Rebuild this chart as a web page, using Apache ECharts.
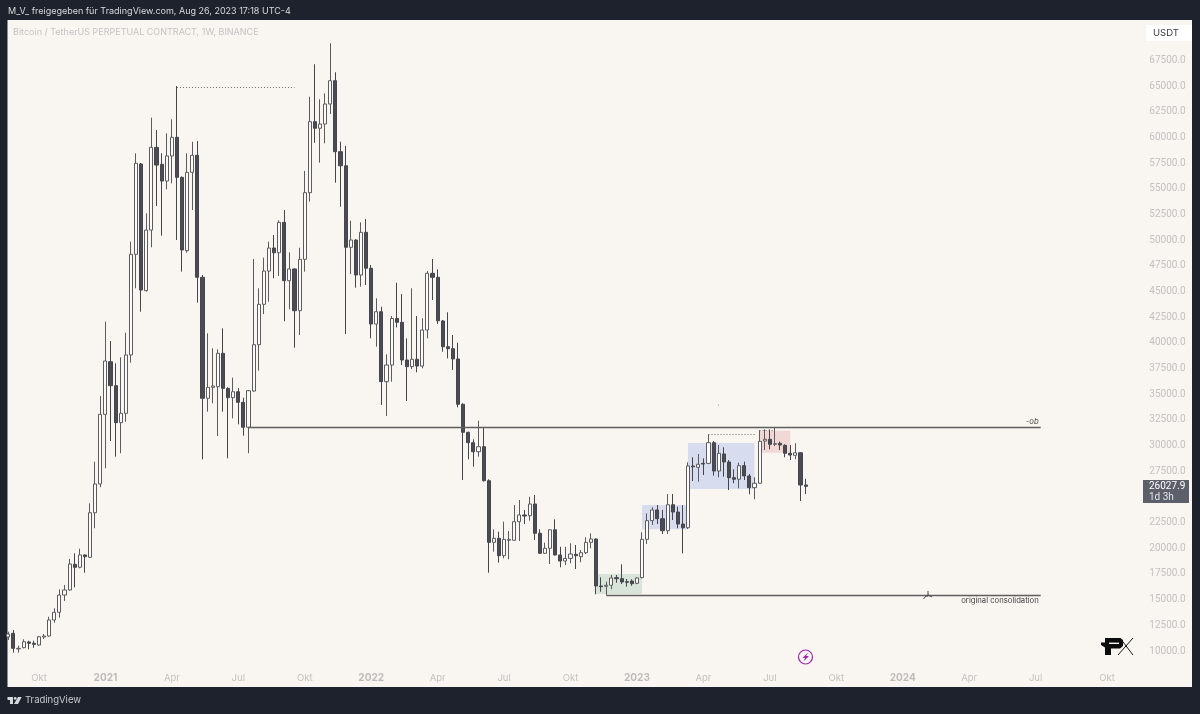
<!DOCTYPE html>
<html style="height: 100%">
<head>
    <meta charset="utf-8">
</head>
<body style="height: 100%; margin: 0; background: #1e222d">
<div id="container" style="width: 1200px; height: 714px"></div>
<script type="text/javascript" src="https://cdn.jsdelivr.net/npm/echarts@6/dist/echarts.min.js"></script>
<script type="text/javascript">
    // weekly BTCUSDT perp
    var opens = [11360,11720,10200,10320,10880,10750,10580,11360,11460,13020,13770,15450,15940,18440,18150,19350,19120,23460,26260,33040,
        38160,35830,32230,33140,38820,48620,57410,45080,50980,59030,57380,55750,58190,60010,56110,48970,56600,58260,46380,34600,
        35670,35730,38980,35570,34660,35240,34210,31780,35310,39820,43750,46990,49230,48770,51730,46050,47190,43130,48130,54620,
        61530,60890,61300,63250,65520,58610,57240,49300,50010,46600,50760,47260,41830,43030,36220,37840,42370,42000,38330,37680,
        38400,37740,41250,46770,46380,42130,39620,39430,38430,34020,31290,30280,29400,29890,26580,20580,20970,19280,20780,20780,
        22590,23240,23170,24310,21460,19510,20000,21800,19350,18760,19020,19410,19180,19570,20580,20900,16330,16300,16400,17140,
        17040,16750,16810,16590,17140,20870,22690,23730,22880,21710,24240,23530,22360,22000,28010,27880,28270,28270,30280,27520,
        29180,28400,26870,26720,28040,27040,25900,26330,30440,30610,30120,30220,30020,29250,29050,29300,26160];
    var closes = [11650,10260,10260,10900,10750,10650,11390,11460,13020,13770,15450,15940,18470,18150,19350,19180,23460,26260,33040,38230,
        35830,32230,33140,38820,48620,57480,45140,50980,59030,57310,55750,58190,60010,56110,49040,56600,58260,46380,34600,35670,
        35800,38980,35570,34660,35240,34210,31780,35340,39820,43750,46990,49230,48770,51730,46050,47190,43130,48130,54620,61530,
        60890,61300,63250,65520,58610,57240,49300,50010,46600,50760,47260,41830,43030,36220,37840,42370,42000,38330,37680,38400,
        37740,41250,46770,46380,42150,39620,39430,38430,34020,31290,30280,29400,29890,26580,20580,20970,19280,20870,20870,22590,
        23240,23140,24310,21460,19510,20000,21800,19350,18760,19020,19440,19280,19570,20580,20900,16330,16260,16400,17110,17040,
        16720,16690,16550,17110,20870,22690,23730,22880,21710,24240,23530,22360,22000,28010,27940,28180,28200,30280,27520,29250,
        28400,26870,26720,28040,27040,25900,26330,30410,30610,30120,30180,30050,29250,29080,29300,26160,26027.9];
    var lows = [11070,9840,9840,10260,10170,10320,10520,11170,11390,12750,13240,14870,15870,16200,18050,17620,19080,21950,25940,27790,
        30440,28920,29250,32320,38070,45310,43030,44980,49300,53320,50430,54950,55530,50010,46930,48770,52930,43910,28660,33300,
        34110,30930,33300,28760,32650,32070,30960,29250,35240,37290,42810,44000,46280,46510,42100,43260,39530,40760,46930,53740,
        59480,57540,59430,62280,55590,53250,40860,46700,45370,45470,45630,40440,39620,33950,32880,36220,41510,37840,34340,37450,
        37130,37520,40440,44170,41830,39140,38490,37360,33720,26650,28660,27940,28920,26500,17620,19670,18600,19020,18930,20740,
        20710,22360,22690,20810,19450,19480,18470,19300,18150,18370,18540,17980,18640,19440,20000,15520,15770,15450,16010,16650,
        16520,16260,16360,16500,17080,20420,22270,22360,21390,21390,22750,21950,19510,21880,26550,26480,27130,28200,27070,26910,
        26970,25670,26330,25840,26650,25260,24770,26300,29570,29640,29960,29570,28860,28590,28690,24600,25280];
    var highs = [11880,12040,10520,11140,11000,11000,11460,11650,13340,14160,16010,16430,18960,19510,19960,19400,24380,28430,34820,42060,
        40180,38010,38590,40990,49850,58450,57510,52610,61920,60720,58450,60400,61760,65000,56200,58450,59580,59650,46600,40930,
        39470,39370,41410,35670,36610,35600,34660,35410,48160,45310,48290,49850,50500,51930,52930,48810,47260,49260,56730,63960,
        67120,63710,64290,69160,66340,59580,59160,51890,50080,51730,52060,47580,44340,43520,38880,42610,45850,44750,40440,45310,
        42610,42390,46990,48160,47160,42220,42970,40760,40010,34110,31350,30610,32420,31740,26720,21850,21610,22590,21680,24210,
        24700,23730,25020,25190,21850,20540,21850,22820,20150,20150,20490,20320,19830,21070,21460,20970,17170,16750,17400,17400,
        18440,17010,16980,17170,21560,23400,23990,24210,23730,25280,25280,24050,24210,28370,28860,29180,28760,31100,30440,30050,
        29830,28590,27690,28330,28430,27230,26910,31510,31580,31580,31780,30380,30120,30050,30220,29350,26770];

    // one category per week, the last ones are the empty space right of the price
    var firstWeek = Date.UTC(2020, 7, 24);
    var weekCount = 222;
    var weeks = [];
    for (var w = 0; w < weekCount; w++) {
        weeks.push(new Date(firstWeek + w * 7 * 86400000).toISOString().slice(0, 10));
    }

    var tickWeeks = ['2020-10-05','2021-01-04','2021-04-05','2021-07-05','2021-10-04','2022-01-03','2022-04-04','2022-07-04',
        '2022-10-03','2023-01-02','2023-04-03','2023-07-03','2023-10-02','2024-01-01','2024-04-01','2024-07-01','2024-10-07'];
    var tickNames = ['Okt','2021','Apr','Jul','Okt','2022','Apr','Jul','Okt','2023','Apr','Jul','Okt','2024','Apr','Jul','Okt'];

    var candles = opens.map(function (o, i) {
        return [o, closes[i], lows[i], highs[i]];
    });

    var lineGrey = '#5f5e5c';
    var dotGrey = '#6f6d72';

    function hline(from, to, price, color, type, width, labelText, labelPos) {
        var start = { coord: [from, price], lineStyle: { color: color, type: type, width: width }, label: { show: false } };
        if (labelText) {
            start.label = {
                show: true, formatter: labelText, position: labelPos, color: '#3f3f3f', fontSize: 7.7,
                fontFamily: 'Inter', fontStyle: labelText === '-ob' ? 'italic' : 'normal', distance: 2
            };
        }
        return [start, { coord: [to, price] }];
    }

    function box(from, to, top, bottom, color) {
        return [{ coord: [from, top], itemStyle: { color: color } }, { coord: [to, bottom] }];
    }

    var dom = document.getElementById("container");
    var myChart = echarts.init(dom);
    var option = {
        animation: false,
        backgroundColor: '#1e222d',
        textStyle: { fontFamily: 'Inter' },
        grid: { left: 5.75, top: 34.68, width: 1134.6, height: 642 },
        xAxis: {
            type: 'category',
            data: weeks,
            boundaryGap: true,
            axisLine: { show: false },
            axisTick: { show: false },
            splitLine: { show: false },
            axisLabel: {
                margin: 0,
                padding: [2, 0, 0, 0],
                verticalAlign: 'middle',
                color: '#c3c1c0',
                fontSize: 9.5,
                interval: function (i, v) { return tickWeeks.indexOf(v) >= 0; },
                formatter: function (v) {
                    var name = tickNames[tickWeeks.indexOf(v)];
                    return /^\d+$/.test(name) ? '{year|' + name + '}' : name;
                },
                rich: { year: { fontWeight: 'bold', color: '#bdbbba', fontSize: 10 } }
            }
        },
        yAxis: {
            type: 'value',
            position: 'right',
            min: 7500,
            max: 70000,
            interval: 2500,
            axisLine: { show: false },
            axisTick: { show: false },
            splitLine: { show: false },
            axisLabel: {
                margin: 9,
                padding: [2, 0, 0, 0],
                color: '#c3c1c0',
                fontFamily: 'Roboto',
                fontSize: 10,
                formatter: function (v) {
                    return v < 10000 || v > 67500 ? '' : v.toFixed(1);
                }
            }
        },
        series: [{
            type: 'candlestick',
            data: candles,
            barWidth: 3.6,
            silent: true,
            itemStyle: {
                color: '#fdfbf8',
                color0: '#4a4b53',
                borderColor: '#5c5c60',
                borderColor0: '#45464d',
                borderWidth: 1
            },
            markArea: {
                silent: true,
                data: [
                    box('2022-11-07', '2023-01-09', 17500, 15550, '#d8e3da'),
                    box('2023-01-09', '2023-03-13', 24210, 21850, '#d7dcee'),
                    box('2023-03-13', '2023-06-12', 30250, 25770, '#d7dcee'),
                    box('2023-06-19', '2023-07-31', 31450, 29300, '#f2d8d4')
                ]
            },
            markLine: {
                silent: true,
                symbol: 'none',
                animation: false,
                data: [
                    hline('2021-04-12', '2021-09-20', 64900, dotGrey, [1, 2], 1),
                    hline('2021-07-19', '2024-07-08', 31760, lineGrey, 'solid', 1.3, '-ob', 'insideEndTop'),
                    hline('2022-11-21', '2024-07-08', 15450, lineGrey, 'solid', 1.3, 'original consolidation', 'insideEndBottom'),
                    hline('2023-04-10', '2023-06-12', 31060, dotGrey, [1, 2], 1),
                    hline('2023-06-19', '2023-07-10', 31500, dotGrey, [1, 2], 1)
                ]
            }
        }],
        graphic: [
            { type: 'rect', silent: true, z: -10, shape: { x: 7.5, y: 20, width: 1184.5, height: 667 }, style: { fill: '#f9f6f2' } },
            { type: 'text', z: 100, x: 8, y: 7, style: { text: 'M_V_ freigegeben für TradingView.com, Aug 26, 2023 17:18 UTC-4', fill: '#d8d9dc', font: '9px Inter' } },
            { type: 'text', z: 100, x: 13, y: 28, style: { text: 'Bitcoin / TetherUS PERPETUAL CONTRACT, 1W, BINANCE', fill: '#c5c3c3', font: '9px Inter' } },
            { type: 'rect', z: 100, shape: { x: 1146, y: 25, width: 46, height: 16 }, style: { fill: '#ffffff' } },
            { type: 'text', z: 101, x: 1153, y: 28, style: { text: 'USDT', fill: '#3a3a3f', font: '9.5px Inter' } },
            { type: 'rect', z: 100, shape: { x: 1143, y: 480, width: 46, height: 23 }, style: { fill: '#5d606b' } },
            { type: 'text', z: 101, x: 1149, y: 481.5, style: { text: '26027.9', fill: '#ffffff', font: '10px Roboto' } },
            { type: 'text', z: 101, x: 1149, y: 492.5, style: { text: '1d 3h', fill: '#e4e4e8', font: '10px Roboto' } },
            { type: 'text', z: 100, x: 25, y: 695.5, style: { text: 'TradingView', fill: '#c9cbd1', font: '9.5px Inter' } },
            // tradingview logo
            { type: 'polygon', z: 100, shape: { points: [[7.5, 697], [13, 697], [13, 704], [10, 704], [10, 700], [7.5, 700]] }, style: { fill: '#d6d8dc' } },
            { type: 'polygon', z: 100, shape: { points: [[14, 704], [18, 697], [21.7, 697], [18, 704]] }, style: { fill: '#d6d8dc' } },
            { type: 'circle', z: 100, shape: { cx: 15.2, cy: 698.4, r: 1.4 }, style: { fill: '#d6d8dc' } },
            // PX watermark
            { type: 'polygon', z: 100, shape: { points: [[1105, 638], [1120, 638], [1123, 640], [1123, 646], [1120, 648.5], [1111, 648.5], [1111, 655], [1105, 655], [1105, 647.5], [1101, 645], [1101, 642.5], [1105, 642.5]] }, style: { fill: '#0b0b0b' } },
            { type: 'rect', z: 101, shape: { x: 1109, y: 642.6, width: 10, height: 1.4 }, style: { fill: '#f9f6f2' } },
            { type: 'line', z: 100, shape: { x1: 1120, y1: 638, x2: 1133, y2: 655 }, style: { stroke: '#1a1a1a', lineWidth: 1 } },
            { type: 'line', z: 100, shape: { x1: 1133, y1: 638, x2: 1118, y2: 655 }, style: { stroke: '#1a1a1a', lineWidth: 1 } },
            // lightning badge
            { type: 'circle', z: 100, shape: { cx: 805.5, cy: 657, r: 7 }, style: { fill: 'none', stroke: '#9c27b0', lineWidth: 1.2 } },
            { type: 'polygon', z: 100, shape: { points: [[808, 652.5], [802.5, 658], [805.2, 658], [803.5, 661.5], [809, 656], [806.2, 656]] }, style: { fill: '#9c27b0' } },
            // cut mark on the consolidation line and the stray dot above the high
            { type: 'polyline', z: 100, shape: { points: [[923.5, 599], [926, 596], [928, 596], [928, 591]] }, style: { fill: 'none', stroke: '#45454a', lineWidth: 1 } },
            { type: 'line', z: 100, shape: { x1: 928, y1: 595, x2: 932, y2: 597 }, style: { stroke: '#45454a', lineWidth: 1 } },
            { type: 'circle', z: 100, shape: { cx: 718.5, cy: 405, r: 0.6 }, style: { fill: '#8a8a8a' } }
        ]
    };
    myChart.setOption(option, true);
</script>
</body>
</html>
